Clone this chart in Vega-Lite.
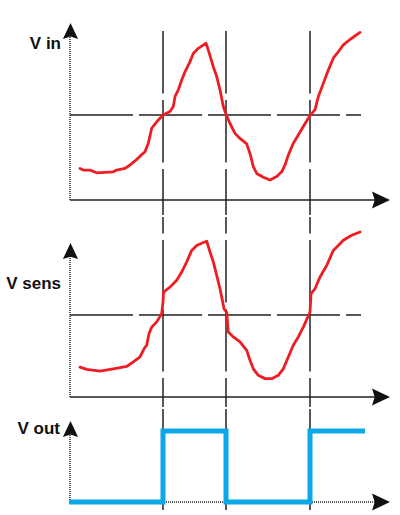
{
  "$schema": "https://vega.github.io/schema/vega-lite/v6.json",
  "padding": 0,
  "background": "white",
  "config": {"view": {"stroke": null}, "concat": {"spacing": 0}},
  "datasets": {
    "crossings": [{"t": 93}, {"t": 156}, {"t": 240}],
    "vin": [
      {"t": 10, "v": 0.93}, {"t": 13.3, "v": 0.88}, {"t": 20, "v": 0.88}, {"t": 26.7, "v": 0.8},
      {"t": 43.3, "v": 0.83}, {"t": 46.7, "v": 0.88}, {"t": 55, "v": 0.93}, {"t": 60, "v": 1.03},
      {"t": 65, "v": 1.15}, {"t": 70, "v": 1.29}, {"t": 75, "v": 1.42}, {"t": 78.3, "v": 1.67},
      {"t": 81.7, "v": 2.11}, {"t": 86.7, "v": 2.3}, {"t": 93, "v": 2.5}, {"t": 100, "v": 2.6},
      {"t": 103.3, "v": 2.75}, {"t": 105, "v": 3.04}, {"t": 108.3, "v": 3.24}, {"t": 111.7, "v": 3.53},
      {"t": 115, "v": 3.77}, {"t": 120, "v": 4.07}, {"t": 123.3, "v": 4.31}, {"t": 128.3, "v": 4.46},
      {"t": 136, "v": 4.61}, {"t": 138.3, "v": 4.41}, {"t": 143.3, "v": 3.92}, {"t": 146.7, "v": 3.63},
      {"t": 150, "v": 3.24}, {"t": 153.3, "v": 2.75}, {"t": 156.3, "v": 2.5}, {"t": 160, "v": 2.25},
      {"t": 165, "v": 1.96}, {"t": 170, "v": 1.81}, {"t": 176.7, "v": 1.65}, {"t": 180, "v": 1.37},
      {"t": 183.3, "v": 0.98}, {"t": 186.7, "v": 0.78}, {"t": 193.3, "v": 0.67}, {"t": 200, "v": 0.59},
      {"t": 206.7, "v": 0.69}, {"t": 211.7, "v": 0.83}, {"t": 215, "v": 1.03}, {"t": 218.3, "v": 1.32},
      {"t": 223.3, "v": 1.67}, {"t": 228.3, "v": 1.91}, {"t": 233.3, "v": 2.16}, {"t": 240.3, "v": 2.5},
      {"t": 245, "v": 2.65}, {"t": 248.3, "v": 3.04}, {"t": 253.3, "v": 3.43}, {"t": 258.3, "v": 3.82},
      {"t": 263.3, "v": 4.17}, {"t": 268.3, "v": 4.36}, {"t": 273.3, "v": 4.56}, {"t": 280, "v": 4.72},
      {"t": 290, "v": 4.93}
    ],
    "vsens": [
      {"t": 10, "v": 0.91}, {"t": 16.7, "v": 0.84}, {"t": 30, "v": 0.79}, {"t": 43.3, "v": 0.86},
      {"t": 56.7, "v": 0.93}, {"t": 63.3, "v": 1.07}, {"t": 70, "v": 1.22}, {"t": 74, "v": 1.47},
      {"t": 76.7, "v": 1.58}, {"t": 79, "v": 1.93}, {"t": 81.7, "v": 2.13}, {"t": 86.7, "v": 2.29},
      {"t": 91.7, "v": 2.54}, {"t": 93, "v": 2.9}, {"t": 93.5, "v": 3.2}, {"t": 100, "v": 3.35},
      {"t": 106.7, "v": 3.56}, {"t": 111.7, "v": 3.81}, {"t": 116.7, "v": 4.12}, {"t": 121.7, "v": 4.47},
      {"t": 126.7, "v": 4.62}, {"t": 133.3, "v": 4.71}, {"t": 136.7, "v": 4.75}, {"t": 140, "v": 4.42},
      {"t": 143.3, "v": 4.12}, {"t": 146.7, "v": 3.71}, {"t": 150, "v": 3.3}, {"t": 152.7, "v": 2.9},
      {"t": 154, "v": 2.69}, {"t": 156.7, "v": 2.59}, {"t": 158.3, "v": 1.98}, {"t": 163.3, "v": 1.83},
      {"t": 170, "v": 1.68}, {"t": 176.7, "v": 1.42}, {"t": 180, "v": 1.12}, {"t": 183.3, "v": 0.86},
      {"t": 188.3, "v": 0.66}, {"t": 195, "v": 0.56}, {"t": 201.7, "v": 0.56}, {"t": 208.3, "v": 0.66},
      {"t": 213.3, "v": 0.86}, {"t": 218.3, "v": 1.22}, {"t": 223.3, "v": 1.58}, {"t": 228.3, "v": 1.83},
      {"t": 233.3, "v": 2.13}, {"t": 240, "v": 2.59}, {"t": 241, "v": 3.15}, {"t": 245, "v": 3.3},
      {"t": 250, "v": 3.66}, {"t": 256.7, "v": 4.01}, {"t": 263.3, "v": 4.47}, {"t": 268.3, "v": 4.62},
      {"t": 273.3, "v": 4.78}, {"t": 281.7, "v": 4.93}, {"t": 290, "v": 5.03}
    ],
    "vout": [
      {"t": -1, "v": 0}, {"t": 93, "v": 5}, {"t": 156, "v": 0}, {"t": 240, "v": 5}, {"t": 295, "v": 5}
    ]
  },
  "vconcat": [
    {
      "width": 400,
      "height": 215,
      "layer": [
        {
          "data": {"name": "crossings"},
          "mark": {"type": "rule", "stroke": "#222", "strokeWidth": 1.5, "strokeDash": [62.5, 6.5]},
          "encoding": {
            "x": {"field": "t", "type": "quantitative", "scale": {"domain": [-70, 330], "nice": false}, "axis": null},
            "y": {"datum": 4.97, "type": "quantitative", "scale": {"domain": [-0.441, 5.882], "nice": false}, "axis": null},
            "y2": {"datum": -0.441}
          }
        },
        {
          "data": {"values": [{}]},
          "mark": {"type": "rule", "stroke": "#222", "strokeWidth": 1.5, "strokeDash": [63, 6]},
          "encoding": {
            "x": {"datum": 0, "type": "quantitative", "scale": {"domain": [-70, 330], "nice": false}, "axis": null},
            "x2": {"datum": 291},
            "y": {"datum": 2.5, "type": "quantitative", "scale": {"domain": [-0.441, 5.882], "nice": false}, "axis": null}
          }
        },
        {
          "data": {"values": [{}]},
          "mark": {"type": "rule", "stroke": "#222", "strokeWidth": 1.5},
          "encoding": {
            "x": {"datum": 0, "type": "quantitative", "scale": {"domain": [-70, 330], "nice": false}, "axis": null},
            "x2": {"datum": 306},
            "y": {"datum": 0, "type": "quantitative", "scale": {"domain": [-0.441, 5.882], "nice": false}, "axis": null}
          }
        },
        {
          "data": {"values": [{}]},
          "mark": {"type": "rule", "stroke": "#222", "strokeWidth": 1.5, "strokeDash": [1, 1]},
          "encoding": {
            "x": {"datum": 0, "type": "quantitative", "scale": {"domain": [-70, 330], "nice": false}, "axis": null},
            "y": {"datum": 0, "type": "quantitative", "scale": {"domain": [-0.441, 5.882], "nice": false}, "axis": null},
            "y2": {"datum": 4.9}
          }
        },
        {
          "data": {"values": [{}]},
          "mark": {"type": "point", "shape": "M1,0L-1,-0.95L-0.7,0L-1,0.95Z", "size": 324, "filled": true, "color": "#111", "opacity": 1},
          "encoding": {
            "x": {"datum": 311, "type": "quantitative", "scale": {"domain": [-70, 330], "nice": false}, "axis": null},
            "y": {"datum": 0, "type": "quantitative", "scale": {"domain": [-0.441, 5.882], "nice": false}, "axis": null}
          }
        },
        {
          "data": {"values": [{}]},
          "mark": {"type": "point", "shape": "M0,-1L0.95,1L0,0.7L-0.95,1Z", "size": 256, "filled": true, "color": "#111", "opacity": 1},
          "encoding": {
            "x": {"datum": 0.5, "type": "quantitative", "scale": {"domain": [-70, 330], "nice": false}, "axis": null},
            "y": {"datum": 4.97, "type": "quantitative", "scale": {"domain": [-0.441, 5.882], "nice": false}, "axis": null}
          }
        },
        {
          "data": {"values": [{}]},
          "mark": {"type": "text", "text": "V in", "align": "right", "baseline": "alphabetic", "font": "Liberation Sans", "fontWeight": "bold", "fontSize": 17, "color": "#111"},
          "encoding": {
            "x": {"datum": -9, "type": "quantitative", "scale": {"domain": [-70, 330], "nice": false}, "axis": null},
            "y": {"datum": 4.44, "type": "quantitative", "scale": {"domain": [-0.441, 5.882], "nice": false}, "axis": null}
          }
        },
        {
          "data": {"name": "vin"},
          "mark": {"type": "line", "color": "#ee1d23", "strokeWidth": 2.8, "strokeJoin": "round", "strokeCap": "round"},
          "encoding": {
            "x": {"field": "t", "type": "quantitative", "scale": {"domain": [-70, 330], "nice": false}, "axis": null},
            "y": {"field": "v", "type": "quantitative", "scale": {"domain": [-0.441, 5.882], "nice": false}, "axis": null},
            "order": {"field": "t"}
          }
        }
      ]
    },
    {
      "width": 400,
      "height": 190,
      "layer": [
        {
          "data": {"name": "crossings"},
          "mark": {"type": "rule", "stroke": "#222", "strokeWidth": 1.5, "strokeDash": [62.5, 6.5], "strokeDashOffset": 46},
          "encoding": {
            "x": {"field": "t", "type": "quantitative", "scale": {"domain": [-70, 330], "nice": false}, "axis": null},
            "y": {"datum": 5.488, "type": "quantitative", "scale": {"domain": [-0.305, 5.488], "nice": false}, "axis": null},
            "y2": {"datum": -0.305}
          }
        },
        {
          "data": {"values": [{}]},
          "mark": {"type": "rule", "stroke": "#222", "strokeWidth": 1.5, "strokeDash": [63, 6]},
          "encoding": {
            "x": {"datum": 0, "type": "quantitative", "scale": {"domain": [-70, 330], "nice": false}, "axis": null},
            "x2": {"datum": 291},
            "y": {"datum": 2.5, "type": "quantitative", "scale": {"domain": [-0.305, 5.488], "nice": false}, "axis": null}
          }
        },
        {
          "data": {"values": [{}]},
          "mark": {"type": "rule", "stroke": "#222", "strokeWidth": 1.5},
          "encoding": {
            "x": {"datum": 0, "type": "quantitative", "scale": {"domain": [-70, 330], "nice": false}, "axis": null},
            "x2": {"datum": 306},
            "y": {"datum": 0, "type": "quantitative", "scale": {"domain": [-0.305, 5.488], "nice": false}, "axis": null}
          }
        },
        {
          "data": {"values": [{}]},
          "mark": {"type": "rule", "stroke": "#222", "strokeWidth": 1.5, "strokeDash": [1, 1]},
          "encoding": {
            "x": {"datum": 0, "type": "quantitative", "scale": {"domain": [-70, 330], "nice": false}, "axis": null},
            "y": {"datum": 0, "type": "quantitative", "scale": {"domain": [-0.305, 5.488], "nice": false}, "axis": null},
            "y2": {"datum": 4.4}
          }
        },
        {
          "data": {"values": [{}]},
          "mark": {"type": "point", "shape": "M1,0L-1,-0.95L-0.7,0L-1,0.95Z", "size": 324, "filled": true, "color": "#111", "opacity": 1},
          "encoding": {
            "x": {"datum": 311, "type": "quantitative", "scale": {"domain": [-70, 330], "nice": false}, "axis": null},
            "y": {"datum": 0, "type": "quantitative", "scale": {"domain": [-0.305, 5.488], "nice": false}, "axis": null}
          }
        },
        {
          "data": {"values": [{}]},
          "mark": {"type": "point", "shape": "M0,-1L0.95,1L0,0.7L-0.95,1Z", "size": 256, "filled": true, "color": "#111", "opacity": 1},
          "encoding": {
            "x": {"datum": 0.5, "type": "quantitative", "scale": {"domain": [-70, 330], "nice": false}, "axis": null},
            "y": {"datum": 4.45, "type": "quantitative", "scale": {"domain": [-0.305, 5.488], "nice": false}, "axis": null}
          }
        },
        {
          "data": {"values": [{}]},
          "mark": {"type": "text", "text": "V sens", "align": "right", "baseline": "alphabetic", "font": "Liberation Sans", "fontWeight": "bold", "fontSize": 17, "color": "#111"},
          "encoding": {
            "x": {"datum": -9, "type": "quantitative", "scale": {"domain": [-70, 330], "nice": false}, "axis": null},
            "y": {"datum": 3.29, "type": "quantitative", "scale": {"domain": [-0.305, 5.488], "nice": false}, "axis": null}
          }
        },
        {
          "data": {"name": "vsens"},
          "mark": {"type": "line", "color": "#ee1d23", "strokeWidth": 2.8, "strokeJoin": "round", "strokeCap": "round"},
          "encoding": {
            "x": {"field": "t", "type": "quantitative", "scale": {"domain": [-70, 330], "nice": false}, "axis": null},
            "y": {"field": "v", "type": "quantitative", "scale": {"domain": [-0.305, 5.488], "nice": false}, "axis": null},
            "order": {"field": "t"}
          }
        }
      ]
    },
    {
      "width": 400,
      "height": 110,
      "layer": [
        {
          "data": {"name": "crossings"},
          "mark": {"type": "rule", "stroke": "#222", "strokeWidth": 1.5},
          "encoding": {
            "x": {"field": "t", "type": "quantitative", "scale": {"domain": [-70, 330], "nice": false}, "axis": null},
            "y": {"datum": 6.549, "type": "quantitative", "scale": {"domain": [-1.197, 6.549], "nice": false}, "axis": null},
            "y2": {"datum": -0.563}
          }
        },
        {
          "data": {"values": [{}]},
          "mark": {"type": "rule", "stroke": "#222", "strokeWidth": 1.5, "strokeDash": [1, 1]},
          "encoding": {
            "x": {"datum": 0, "type": "quantitative", "scale": {"domain": [-70, 330], "nice": false}, "axis": null},
            "x2": {"datum": 306},
            "y": {"datum": 0, "type": "quantitative", "scale": {"domain": [-1.197, 6.549], "nice": false}, "axis": null}
          }
        },
        {
          "data": {"values": [{}]},
          "mark": {"type": "rule", "stroke": "#222", "strokeWidth": 1.5, "strokeDash": [1, 1]},
          "encoding": {
            "x": {"datum": 0, "type": "quantitative", "scale": {"domain": [-70, 330], "nice": false}, "axis": null},
            "y": {"datum": 0, "type": "quantitative", "scale": {"domain": [-1.197, 6.549], "nice": false}, "axis": null},
            "y2": {"datum": 5.1}
          }
        },
        {
          "data": {"values": [{}]},
          "mark": {"type": "point", "shape": "M1,0L-1,-0.95L-0.7,0L-1,0.95Z", "size": 324, "filled": true, "color": "#111", "opacity": 1},
          "encoding": {
            "x": {"datum": 311, "type": "quantitative", "scale": {"domain": [-70, 330], "nice": false}, "axis": null},
            "y": {"datum": 0, "type": "quantitative", "scale": {"domain": [-1.197, 6.549], "nice": false}, "axis": null}
          }
        },
        {
          "data": {"values": [{}]},
          "mark": {"type": "point", "shape": "M0,-1L0.95,1L0,0.7L-0.95,1Z", "size": 256, "filled": true, "color": "#111", "opacity": 1},
          "encoding": {
            "x": {"datum": 0.5, "type": "quantitative", "scale": {"domain": [-70, 330], "nice": false}, "axis": null},
            "y": {"datum": 5.14, "type": "quantitative", "scale": {"domain": [-1.197, 6.549], "nice": false}, "axis": null}
          }
        },
        {
          "data": {"values": [{}]},
          "mark": {"type": "text", "text": "V out", "align": "right", "baseline": "alphabetic", "font": "Liberation Sans", "fontWeight": "bold", "fontSize": 17, "color": "#111"},
          "encoding": {
            "x": {"datum": -10, "type": "quantitative", "scale": {"domain": [-70, 330], "nice": false}, "axis": null},
            "y": {"datum": 4.79, "type": "quantitative", "scale": {"domain": [-1.197, 6.549], "nice": false}, "axis": null}
          }
        },
        {
          "data": {"name": "vout"},
          "mark": {"type": "line", "color": "#0aa8e6", "strokeWidth": 5, "interpolate": "step-after", "strokeJoin": "miter", "strokeCap": "butt"},
          "encoding": {
            "x": {"field": "t", "type": "quantitative", "scale": {"domain": [-70, 330], "nice": false}, "axis": null},
            "y": {"field": "v", "type": "quantitative", "scale": {"domain": [-1.197, 6.549], "nice": false}, "axis": null}
          }
        }
      ]
    }
  ]
}
